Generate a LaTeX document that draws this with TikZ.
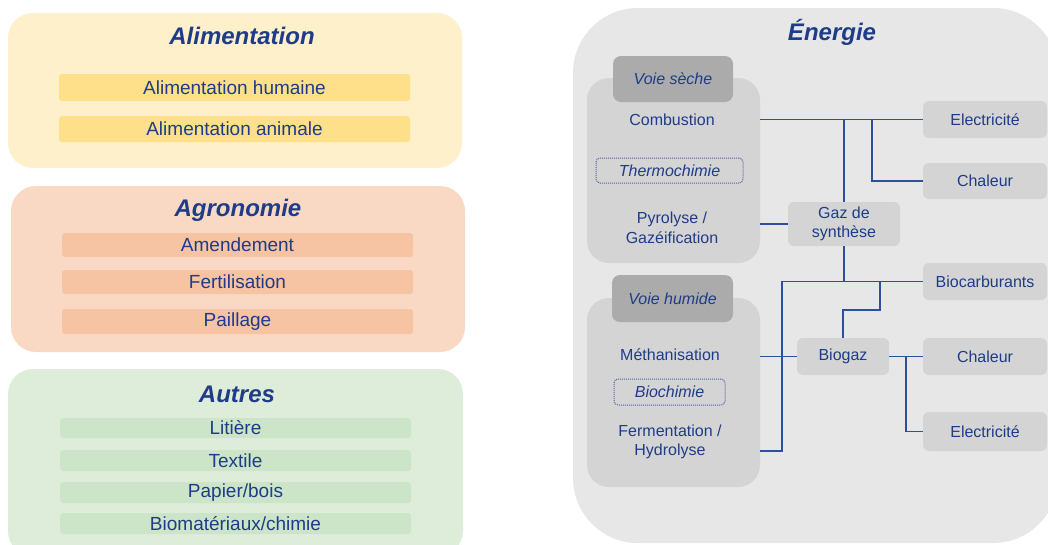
\documentclass[tikz,border=0pt]{standalone}
\usepackage{fontspec}
\setmainfont{Liberation Sans}
\definecolor{ink}{HTML}{1E3C87}
\definecolor{wire}{HTML}{2E4F9E}
\definecolor{alimbg}{HTML}{FEF0CB}
\definecolor{alimbar}{HTML}{FDE089}
\definecolor{agrobg}{HTML}{F9D9C4}
\definecolor{agrobar}{HTML}{F6C3A3}
\definecolor{autbg}{HTML}{DEEDDA}
\definecolor{autbar}{HTML}{CCE5C8}
\definecolor{enbg}{HTML}{E7E7E7}
\definecolor{grp}{HTML}{D4D4D4}
\definecolor{tabc}{HTML}{ABABAB}
\definecolor{dots}{HTML}{4A64A8}
\begin{document}
\begin{tikzpicture}[x=1pt,y=-1pt,
  every node/.style={text=ink, inner sep=0pt, align=center},
  title/.style={font=\fontsize{24}{28}\selectfont\bfseries\itshape},
  bartext/.style={font=\fontsize{19}{22}\selectfont},
  entext/.style={font=\fontsize{16}{19.5}\selectfont},
  bar/.style={bartext, rounded corners=3pt, minimum width=351pt},
  leaf/.style={entext, fill=grp, rounded corners=6pt},
  tabbox/.style={entext, font=\fontsize{16}{19.5}\selectfont\itshape, fill=tabc, rounded corners=8pt},
  dotbox/.style={entext, font=\fontsize{16}{19.5}\selectfont\itshape, draw=dots, densely dotted, line width=1pt, fill=grp, rounded corners=4pt},
  link/.style={draw=wire, line width=1.5pt}]
\useasboundingbox (0,0) rectangle (1048,544);
\clip (0,0) rectangle (1048,544);
\fill[white] (0,0) rectangle (1048,544);

% --- Alimentation ---
\fill[alimbg, rounded corners=25pt] (8,13) rectangle (462,168);
\node[title] (talim) at (242,36) {Alimentation};
\node[bar, fill=alimbar, minimum height=27pt] (ah) at (234.5,87.5) {Alimentation humaine};
\node[bar, fill=alimbar, minimum height=26pt] (aa) at (234.5,129) {Alimentation animale};

% --- Agronomie ---
\fill[agrobg, rounded corners=25pt] (11,186) rectangle (465,352);
\node[title] (tagro) at (238,210) {Agronomie};
\node[bar, fill=agrobar, minimum height=24pt] (amd) at (237.5,245) {Amendement};
\node[bar, fill=agrobar, minimum height=24pt] (fer) at (237.5,282) {Fertilisation};
\node[bar, fill=agrobar, minimum height=25pt] (pai) at (237.5,321.5) {Paillage};

% --- Autres ---
\fill[autbg, rounded corners=25pt] (8,369) rectangle (463,556);
\node[title] (taut) at (237,394) {Autres};
\node[bar, fill=autbar, minimum height=20pt] (lit) at (235.5,428) {Litière};
\node[bar, fill=autbar, minimum height=21pt] (tex) at (235.5,460.5) {Textile};
\node[bar, fill=autbar, minimum height=21pt] (pap) at (235.5,492.5) {Papier/bois};
\node[bar, fill=autbar, minimum height=21pt] (bio) at (235.5,523.5) {Biomatériaux/chimie};

% --- Énergie ---
\fill[enbg, rounded corners=65pt] (573,8) rectangle (1058,543);
\node[title] (ten) at (832,32) {Énergie};

% dry route
\node[fill=grp, rounded corners=22pt, minimum width=173pt, minimum height=185pt] (seche) at (673.5,170.5) {};
\node[tabbox, minimum width=120pt, minimum height=46pt] (tseche) at (673,79) {Voie sèche};
\node[entext] (comb) at (672,120) {Combustion};
\node[dotbox, minimum width=147pt, minimum height=25pt] (thermo) at (669.5,170.5) {Thermochimie};
\node[entext] (pyro) at (672,228) {Pyrolyse /\\Gazéification};

% wet route
\node[fill=grp, rounded corners=22pt, minimum width=173pt, minimum height=189pt] (humide) at (673.5,392.5) {};
\node[tabbox, minimum width=121pt, minimum height=47pt] (thum) at (672.5,298.5) {Voie humide};
\node[entext] (meth) at (670,355) {Méthanisation};
\node[dotbox, minimum width=111pt, minimum height=26pt] (bioch) at (669.5,392) {Biochimie};
\node[entext] (ferm) at (670,442) {Fermentation /\\Hydrolyse};

% intermediate products
\node[leaf, minimum width=112pt, minimum height=44pt] (gaz) at (844,224) {Gaz de\\synthèse};
\node[leaf, minimum width=92pt, minimum height=37pt] (biogaz) at (843,356.5) {Biogaz};

% end uses
\node[leaf, minimum width=124pt, minimum height=37pt] (elec1) at (985,119.5) {Electricité};
\node[leaf, minimum width=124pt, minimum height=36pt] (chal1) at (985,181) {Chaleur};
\node[leaf, minimum width=124pt, minimum height=37pt] (bioc) at (985,281.5) {Biocarburants};
\node[leaf, minimum width=124pt, minimum height=37pt] (chal2) at (985,356.5) {Chaleur};
\node[leaf, minimum width=124pt, minimum height=39pt] (elec2) at (985,431.5) {Electricité};

% junction points
\coordinate (jc) at (872,119.5);
\coordinate (jv) at (782,281.5);
\coordinate (fe) at (760,451);
\coordinate (jb) at (880,310);
\coordinate (jd) at (906,356.5);

% connectors
\draw[link] (elec1.west -| seche.east) -- (elec1.west);
\draw[link] (gaz.north) -- (gaz.north |- elec1.west);
\draw[link] (jc) |- (chal1.west);
\draw[link] (gaz.west -| seche.east) -- (gaz.west);
\draw[link] (gaz.south) -- (gaz.south |- bioc.west);
\draw[link] (bioc.west) -- (jv) -- (jv |- fe) -- (fe);
\draw[link] (biogaz.west -| humide.east) -- (biogaz.west);
\draw[link] (biogaz.north) |- (jb) -- (jb |- bioc.west);
\draw[link] (biogaz.east) -- (chal2.west);
\draw[link] (jd) |- (elec2.west);
\end{tikzpicture}
\end{document}
